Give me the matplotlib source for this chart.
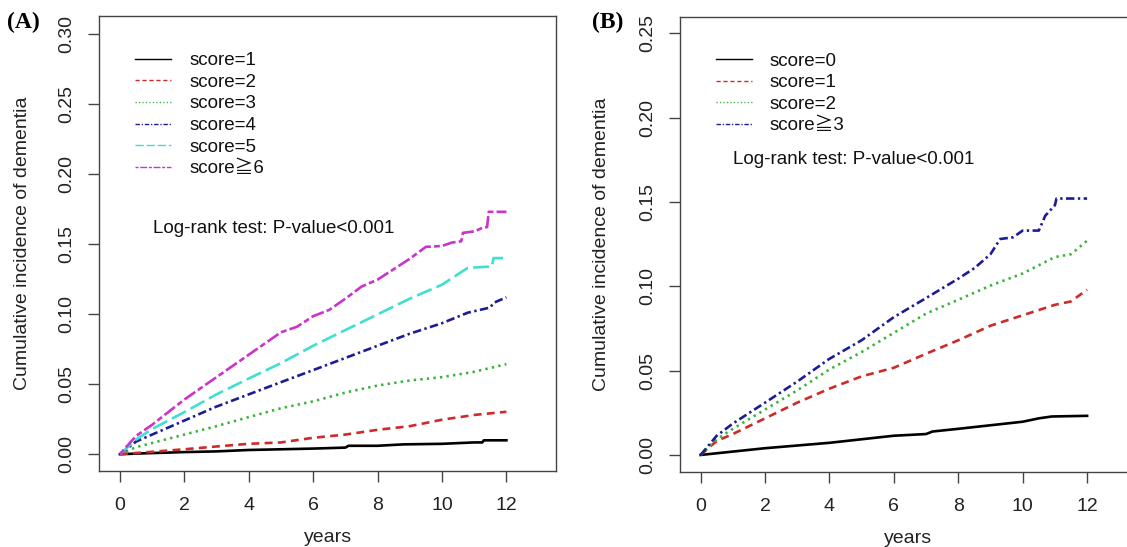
import numpy as np
import matplotlib
matplotlib.use("Agg")
import matplotlib.pyplot as plt
from matplotlib.lines import Line2D

plt.rcParams['font.family'] = ['Liberation Sans', 'Noto Sans CJK JP', 'DejaVu Sans']

# ================================
# DATA
# ================================

# Panel A
a_labels = ["score=1", "score=2", "score=3", "score=4", "score=5", "score≧6"]

a_t1 = [0, 1, 2, 3, 4, 5, 6, 7, 7.1, 8, 8.8, 10, 11, 11.25, 11.3, 12]
a_y1 = [0, 0.0008, 0.0015, 0.002, 0.003, 0.0035, 0.004, 0.0047, 0.006, 0.006,
        0.007, 0.0074, 0.0084, 0.0084, 0.0099, 0.0099]

a_t2 = [0, 1, 2, 3, 4, 5, 6, 7, 8, 9, 10, 11, 12]
a_y2 = [0, 0.0017, 0.0035, 0.0055, 0.0074, 0.0084, 0.0117, 0.014, 0.0174,
        0.020, 0.0246, 0.028, 0.0303]

a_t3 = [0, 0.5, 1, 2, 3, 4, 5, 6, 7, 8, 9, 10, 11, 12]
a_y3 = [0, 0.005, 0.008, 0.014, 0.020, 0.0265, 0.0328, 0.0377, 0.044, 0.049,
        0.0526, 0.055, 0.0588, 0.0643]

a_t4 = [0, 0.5, 1, 2, 3, 4, 5, 6, 7, 8, 9, 10, 10.8, 11.5, 11.6, 12]
a_y4 = [0, 0.009, 0.014, 0.024, 0.034, 0.0427, 0.0514, 0.060, 0.0687, 0.0774,
        0.086, 0.0935, 0.101, 0.1047, 0.108, 0.112]

a_t5 = [0, 0.5, 1, 2, 3, 4, 5, 6, 7, 8, 9, 10, 10.8, 11.55, 11.6, 12]
a_y5 = [0, 0.0104, 0.018, 0.030, 0.0427, 0.054, 0.065, 0.0774, 0.0886, 0.0998,
        0.111, 0.121, 0.133, 0.134, 0.140, 0.140]

a_t6 = [0, 0.5, 1, 2, 3, 4, 5, 5.5, 6, 6.5, 7, 7.5, 8, 8.5, 9, 9.5, 10, 10.3,
        10.6, 10.65, 11, 11.3, 11.4, 11.45, 12]
a_y6 = [0, 0.013, 0.021, 0.039, 0.055, 0.071, 0.087, 0.091, 0.0985, 0.103,
        0.111, 0.1196, 0.1246, 0.132, 0.1395, 0.148, 0.1486, 0.151, 0.152,
        0.158, 0.159, 0.162, 0.162, 0.173, 0.173]

# Panel B
b_labels = ["score=0", "score=1", "score=2", "score≧3"]

b_t0 = [0, 1, 2, 3, 4, 5, 6, 7, 7.2, 8, 9, 10, 10.5, 10.9, 12]
b_y0 = [0, 0.002, 0.004, 0.0056, 0.0072, 0.0093, 0.0114, 0.0124, 0.0139,
        0.0155, 0.0176, 0.0197, 0.0217, 0.0228, 0.0232]

b_t1 = [0, 0.5, 1, 2, 3, 4, 5, 6, 7, 8, 9, 10, 11, 11.5, 12]
b_y1 = [0, 0.0083, 0.0124, 0.0217, 0.031, 0.0393, 0.0466, 0.0517, 0.060,
        0.068, 0.0766, 0.0828, 0.089, 0.091, 0.098]

b_t2 = [0, 0.5, 1, 2, 3, 4, 5, 6, 7, 8, 9, 10, 11, 11.5, 12]
b_y2 = [0, 0.0093, 0.0155, 0.0269, 0.0383, 0.0507, 0.061, 0.0724, 0.0838,
        0.092, 0.1004, 0.1076, 0.1173, 0.119, 0.127]

b_t3 = [0, 0.5, 1, 2, 3, 4, 5, 6, 7, 8, 8.5, 9, 9.3, 9.7, 10, 10.5, 10.7, 11,
        11.05, 12]
b_y3 = [0, 0.0114, 0.0186, 0.031, 0.0435, 0.057, 0.068, 0.0817, 0.093, 0.1045,
        0.1107, 0.119, 0.128, 0.129, 0.133, 0.133, 0.1418, 0.148, 0.152, 0.152]

x_ticks = [0, 2, 4, 6, 8, 10, 12]
a_y_ticks = [0.00, 0.05, 0.10, 0.15, 0.20, 0.25, 0.30]
b_y_ticks = [0.00, 0.05, 0.10, 0.15, 0.20, 0.25]

# ================================
# STYLES
# ================================
black = "#000000"
red = "#cf2a2a"
green = "#3cb43c"
blue = "#1c1c96"
cyan = "#40e0d0"
magenta = "#cc33cc"

ls_solid = "-"
ls_dash = (0, (3, 2))
ls_dot = (0, (0.9, 1.6))
ls_dotdash = (0, (3.2, 1.3, 0.9, 1.3))
ls_long = (0, (6, 2))
ls_twodash = (0, (2.2, 1.2, 5, 1.2))

a_series = [
    (a_t1, a_y1, black, ls_solid),
    (a_t2, a_y2, red, ls_dash),
    (a_t3, a_y3, green, ls_dot),
    (a_t4, a_y4, blue, ls_dotdash),
    (a_t5, a_y5, cyan, ls_long),
    (a_t6, a_y6, magenta, ls_twodash),
]
b_series = [
    (b_t0, b_y0, black, ls_solid),
    (b_t1, b_y1, red, ls_dash),
    (b_t2, b_y2, green, ls_dot),
    (b_t3, b_y3, blue, ls_dotdash),
]

W, H = 1127, 547
fig = plt.figure(figsize=(W / 100, H / 100), dpi=100)

ax_a = fig.add_axes([99.3 / W, 1 - 471 / H, 456.7 / W, 455.3 / H])
ax_b = fig.add_axes([680 / W, 1 - 472 / H, 456.7 / W, 455.5 / H])


def draw_panel(ax, series, labels, yticks, ylim, leg_y, text_y, tag, tag_x):
    handles = []
    for (t, y, c, ls), lab in zip(series, labels):
        ax.plot(t, y, color=c, linestyle=ls, linewidth=1.9)
        handles.append(Line2D([], [], color=c, linestyle=ls, linewidth=1.0))

    ax.set_xlim(-0.64, 13.54)
    ax.set_ylim(*ylim)
    ax.set_xticks(x_ticks)
    ax.set_xticklabels([str(v) for v in x_ticks])
    ax.set_yticks(yticks)
    ax.set_yticklabels([f"{v:.2f}" for v in yticks], rotation=90, va="center")
    ax.tick_params(direction="out", length=8, width=1.0, color="#444444",
                   labelsize=14, colors="#222222")
    ax.tick_params(axis="x", pad=11)
    ax.tick_params(axis="y", pad=9)
    for sp in ax.spines.values():
        sp.set_color("#444444")
        sp.set_linewidth(1.0)

    ax.set_xlabel("years", fontsize=14, color="#222222")
    ax.xaxis.set_label_coords(0.5, -0.146)
    ax.xaxis.label.set_va("center")
    ax.set_ylabel("Cumulative incidence of dementia", fontsize=14, color="#222222")
    ax.yaxis.label.set_va("center")

    ax.legend(handles, labels, loc="upper left", bbox_to_anchor=(0.078, leg_y),
              frameon=False, fontsize=13.5, handlelength=1.95, handletextpad=0.95,
              labelspacing=0.24, borderpad=0, borderaxespad=0,
              labelcolor="#111111")
    ax.text(0.117, text_y, "Log-rank test: P-value<0.001", transform=ax.transAxes,
            fontsize=13.5, va="center", ha="left", color="#111111")

    fig.text(tag_x / W, 1 - 22.5 / H, tag, fontsize=17, fontweight="bold",
             family="Liberation Serif", va="center", ha="left")


draw_panel(ax_a, a_series, a_labels, a_y_ticks, (-0.012, 0.313), 0.92, 0.533,
           "(A)", 7)
ax_a.yaxis.set_label_coords(-0.168, 0.5)

draw_panel(ax_b, b_series, b_labels, b_y_ticks, (-0.0101, 0.2599), 0.921, 0.686,
           "(B)", 592)
ax_b.yaxis.set_label_coords(-0.171, 0.5)

plt.savefig("out.png", dpi=100)
plt.close()
